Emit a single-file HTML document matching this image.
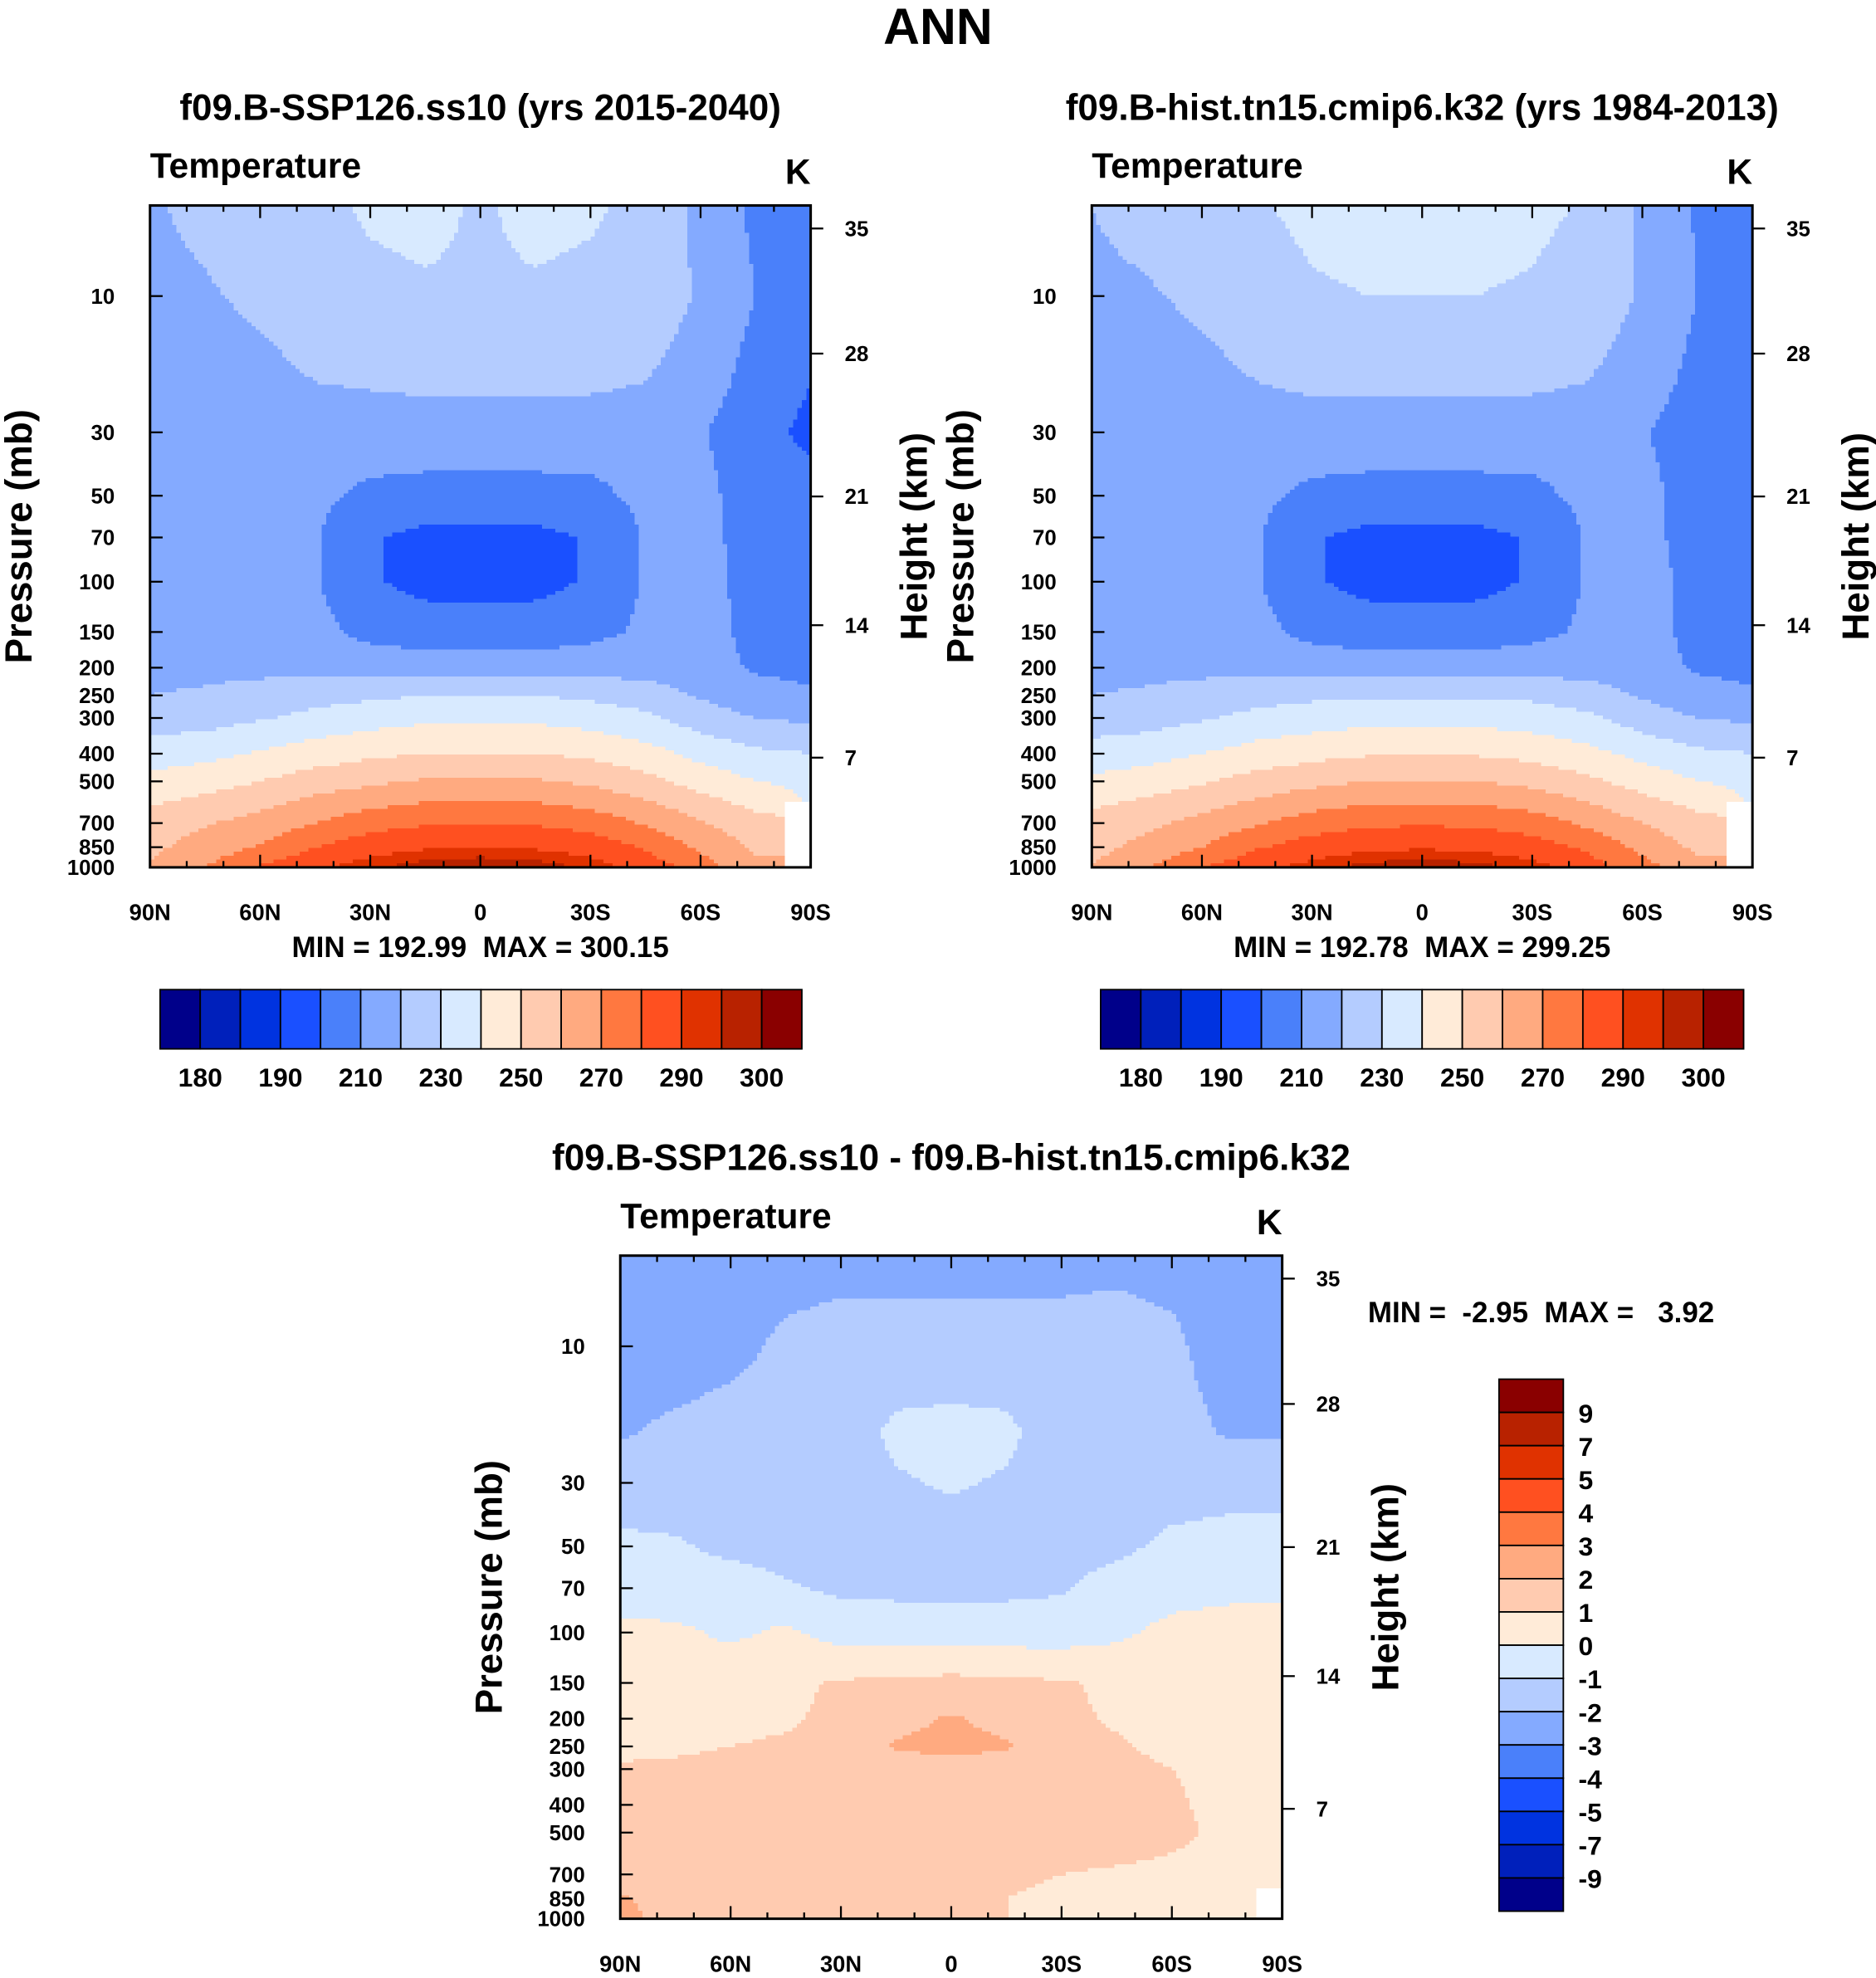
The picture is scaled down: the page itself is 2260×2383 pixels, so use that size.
<!DOCTYPE html>
<html><head><meta charset="utf-8"><style>
html,body{margin:0;padding:0;background:#fff}
svg{display:block}
text{font-family:"Liberation Sans",sans-serif;font-weight:bold;fill:#000;white-space:pre}
</style></head><body>
<svg id="fig" width="2260" height="2383" viewBox="0 0 1488 1569" preserveAspectRatio="none" xmlns="http://www.w3.org/2000/svg">
<text x="744" y="35" font-size="40" text-anchor="middle">ANN</text>
</svg>
<script>
const palette=["#00008a","#0020bb","#0033e0","#1a50ff","#4a80fa","#84aaff","#b4ccff","#d8eaff","#ffebd8","#ffcbb0","#ffaa80","#ff7840","#ff5020","#e03200","#b82200","#8a0000"];
const tempLevels=[180,185,190,200,210,220,230,240,250,260,270,280,290,295,300];
const tempLabels=["180","190","210","230","250","270","290","300"];
const diffLevels=[-9,-7,-5,-4,-3,-2,-1,0,1,2,3,4,5,7,9];
const diffLabels=["9","7","5","4","3","2","1","0","-1","-2","-3","-4","-5","-7","-9"];
const lats=[90,75,60,45,30,15,0,-15,-30,-45,-60,-75,-90];
const plevs=[5,10,20,30,50,70,100,150,200,250,300,400,500,700,850,1000];
const N=null;
const tempA=[
[219,222,226,228,231,232,229,232,231,228,217,208,203],
[218,219,222,226,228,229,229,229,228,226,219,210,206],
[216,215,217,220,221,222,222,222,222,220,215,206,200],
[214,214,214,215,215,215,215,215,214,213,211,203,198],
[214,214,214,212,208,207,207,207,208,212,213,205,203],
[215,214,213,211,201,197,197,197,201,211,213,206,204],
[216,215,214,211,201,197,196,197,201,211,214,206,205],
[217,216,216,213,207,205,205,205,207,212,214,207,206],
[218,218,218,217,216,215,215,215,216,216,214,209,208],
[220,221,223,226,228,230,230,230,228,225,219,213,211],
[225,226,229,233,236,238,238,238,236,232,225,220,218],
[235,237,241,245,248,250,250,250,248,244,237,232,230],
[243,246,250,255,258,261,261,261,258,253,246,240,238],
[255,259,264,270,276,279,280,279,276,269,261,254,N],
[258,264,271,280,286,289,290,289,286,279,268,258,N],
[261,270,281,288,294,298,300,298,294,286,275,262,N]];
const tempB=[
[220,223,227,229,232,233,231,233,232,229,218,209,205],
[218,219,222,226,229,230,230,230,229,226,219,210,207],
[216,215,217,220,222,222,222,222,222,220,215,207,202],
[214,214,214,215,215,215,215,215,214,213,211,204,200],
[214,214,214,212,208,207,207,207,208,212,213,206,204],
[215,214,213,211,201,197,197,197,201,211,213,206,205],
[216,215,214,211,201,197,196,197,201,211,214,207,205],
[217,216,216,213,207,205,205,205,207,212,214,207,206],
[218,218,218,217,216,215,215,215,216,216,214,209,208],
[220,221,223,226,228,229,229,229,228,225,219,213,211],
[225,226,229,233,235,237,237,237,235,232,225,220,218],
[234,236,240,244,247,249,249,249,247,243,237,232,230],
[242,245,249,254,257,260,260,260,257,252,246,240,238],
[254,258,263,269,275,278,279,278,275,268,260,254,N],
[257,263,270,279,285,288,289,288,285,278,267,258,N],
[260,269,280,287,293,297,299,297,293,285,274,262,N]];
const diffV=[
[-2.5,-2.5,-2.5,-2.4,-2.3,-2.3,-2.3,-2.3,-2.3,-2.2,-2.3,-2.5,-2.5],
[-2.5,-2.5,-2.3,-1.8,-1.6,-1.6,-1.6,-1.6,-1.6,-1.6,-1.8,-2.5,-2.5],
[-2.1,-1.8,-1.6,-1.5,-1.5,-0.8,-0.7,-0.8,-1.5,-1.5,-1.6,-2.1,-2.1],
[-1.5,-1.5,-1.5,-1.5,-1.5,-1.1,-0.9,-1.1,-1.5,-1.5,-1.4,-1.3,-1.3],
[-0.8,-0.9,-1.2,-1.3,-1.4,-1.4,-1.4,-1.4,-1.4,-1.2,-0.8,-0.7,-0.7],
[-0.6,-0.6,-0.6,-0.9,-1.2,-1.2,-1.2,-1.2,-1.1,-0.6,-0.4,-0.3,-0.2],
[0.3,0.2,-0.2,0.2,-0.4,-0.5,-0.5,-0.5,-0.5,-0.2,0.3,0.5,0.5],
[0.5,0.6,0.7,0.8,1.1,1.2,1.3,1.2,1.1,0.8,0.6,0.6,0.6],
[0.6,0.7,0.8,0.9,1.2,1.7,2.1,1.7,1.2,0.9,0.7,0.7,0.7],
[0.8,0.9,1.0,1.1,1.3,2.1,2.3,2.1,1.3,1.1,0.8,0.7,0.7],
[1.1,1.1,1.2,1.2,1.3,1.5,1.6,1.5,1.3,1.2,1.0,0.8,0.7],
[1.2,1.3,1.4,1.4,1.4,1.4,1.4,1.4,1.4,1.3,1.1,0.8,0.7],
[1.3,1.3,1.4,1.4,1.4,1.4,1.4,1.4,1.4,1.4,1.2,0.8,0.7],
[1.5,1.4,1.3,1.2,1.2,1.2,1.2,1.1,1.0,0.9,0.8,0.7,0.7],
[2.1,1.6,1.2,1.2,1.2,1.1,1.1,1.0,0.9,0.8,0.7,0.6,N],
[2.3,1.6,1.2,1.2,1.2,1.1,1.1,1.0,0.9,0.8,0.7,0.6,N]];
const pTicks=[10,30,50,70,100,150,200,250,300,400,500,700,850,1000];
const kmTicks=[35,28,21,14,7];
const kmPress=[5.8,15.9,50.3,142,413];
const latTickLabels=["90N","60N","30N","0","30S","60S","90S"];

const NS="http://www.w3.org/2000/svg";
const svg=document.getElementById('fig');
function mk(tag,attrs,parent){const e=document.createElementNS(NS,tag);for(const k in attrs)e.setAttribute(k,attrs[k]);(parent||svg).appendChild(e);return e;}
function colorIdx(v,lv){let i=0;while(i<lv.length&&v>=lv[i])i++;return i;}
function sample(field,lat,p){
  let fx=(90-lat)/15; fx=Math.max(0,Math.min(12,fx));
  const lp=Math.log(p);let fy;
  if(p<=plevs[0])fy=0;else if(p>=1000)fy=plevs.length-1;else{
    for(let j=0;j<plevs.length-1;j++){if(p<=plevs[j+1]){fy=j+(lp-Math.log(plevs[j]))/(Math.log(plevs[j+1])-Math.log(plevs[j]));break;}}}
  const nx=Math.round(fx),ny=Math.round(fy);
  if(field[ny][nx]===null)return null;
  const x0=Math.floor(fx),y0=Math.floor(fy),x1=Math.min(12,x0+1),y1=Math.min(plevs.length-1,y0+1);
  const tx=fx-x0,ty=fy-y0;let s=0,w=0;
  [[x0,y0,(1-tx)*(1-ty)],[x1,y0,tx*(1-ty)],[x0,y1,(1-tx)*ty],[x1,y1,tx*ty]].forEach(([i,j,ww])=>{const v=field[j][i];if(v!==null){s+=v*ww;w+=ww;}});
  return w>0?s/w:null;
}
function panel(o){
  const g=mk('g',{});
  
  
  const L=o.x0,R=o.x1,B=o.yb,sc=o.sc,T=o.yt;
  const yOf=p=>B-Math.log(1000/p)*sc;
  const xOf=lat=>L+(90-lat)/180*(R-L);
  const NX=150,NY=170,cw=(R-L)/NX,ch=(B-T)/NY;
  const cg=mk('g',{'shape-rendering':'crispEdges'},g);
  
  
  for(let j=0;j<NY;j++){
    const y=T+(j+0.5)*ch;const p=1000*Math.exp(-(B-y)/sc);
    let run=null,start=0;
    const flush=(end)=>{if(run!==null&&run!=='w'){const r=mk('rect',{x:L+start*cw,y:T+j*ch,width:(end-start)*cw+0.6,height:ch+0.6,fill:run},cg);
      
      }};
    for(let i=0;i<NX;i++){
      const lat=90-(i+0.5)*cw/(R-L)*180;
      const v=sample(o.field,lat,p);
      const c=v===null?'w':palette[colorIdx(v,o.levels)];
      if(c!==run){flush(i);run=c;start=i;}
    }
    flush(NX);
  }
  mk('rect',{x:L,y:T,width:R-L,height:B-T,fill:'none',stroke:'#000','stroke-width':2},g);
  for(let lat=90;lat>=-90;lat-=10){
    const x=xOf(lat);const maj=lat%30===0;const len=maj?10:5;
    mk('line',{x1:x,y1:T,x2:x,y2:T+len,stroke:'#000','stroke-width':1.5},g);
    mk('line',{x1:x,y1:B,x2:x,y2:B-len,stroke:'#000','stroke-width':1.5},g);
  }
  latTickLabels.forEach((s,k)=>{const t=mk('text',{x:xOf(90-30*k),y:B+42,'font-size':18,'text-anchor':'middle'},g);t.textContent=s;
    
    });
  pTicks.forEach(p=>{const y=yOf(p);
    mk('line',{x1:L,y1:y,x2:L+10,y2:y,stroke:'#000','stroke-width':1.5},g);
    const t=mk('text',{x:L-28,y:y+6,'font-size':17,'text-anchor':'end'},g);t.textContent=p;
    
    });
  kmTicks.forEach((h,k)=>{const y=yOf(kmPress[k]);
    mk('line',{x1:R,y1:y,x2:R+10,y2:y,stroke:'#000','stroke-width':1.5},g);
    const t=mk('text',{x:R+27,y:y+6,'font-size':17},g);t.textContent=h;
    
    });
  let t=mk('text',{x:L,y:T-22,'font-size':28},g);t.textContent='Temperature';
  
  t=mk('text',{x:R,y:T-17,'font-size':28,'text-anchor':'end'},g);t.textContent='K';
  
  t=mk('text',{x:(L+R)/2,y:T-68,'font-size':29,'text-anchor':'middle'},g);t.textContent=o.title;
  
  const my=(T+B)/2;
  t=mk('text',{x:0,y:0,'font-size':30,'text-anchor':'middle',transform:`translate(${L-94},${my}) rotate(-90)`},g);t.textContent='Pressure (mb)';
  
  t=mk('text',{x:0,y:0,'font-size':30,'text-anchor':'middle',transform:`translate(${R+92},${my}) rotate(-90)`},g);t.textContent='Height (km)';
  
}
function hbar(x0,x1,y0,y1,labels,cx,minmax){
  const g=mk('g',{});
  const w=(x1-x0)/16;
  palette.forEach((c,i)=>{const r=mk('rect',{x:x0+i*w,y:y0,width:w,height:y1-y0,fill:c,stroke:'#000','stroke-width':1.2},g);
    });
  labels.forEach((s,k)=>{const t=mk('text',{x:x0+(2*k+1)*w,y:y1+30,'font-size':21,'text-anchor':'middle'},g);t.textContent=s;
    });
  const t=mk('text',{x:cx,y:y0-26,'font-size':23,'text-anchor':'middle'},g);t.textContent=minmax;
  
}
panel({name:'panel-ssp126',x0:119,x1:643,yt:163,yb:688,sc:98.4,field:tempA,levels:tempLevels,title:'f09.B-SSP126.ss10 (yrs 2015-2040)'});
panel({name:'panel-hist',x0:866,x1:1390,yt:163,yb:688,sc:98.4,field:tempB,levels:tempLevels,title:'f09.B-hist.tn15.cmip6.k32 (yrs 1984-2013)'});
panel({name:'panel-difference',x0:492,x1:1017,yt:996,yb:1522,sc:98.6,field:diffV,levels:diffLevels,title:'f09.B-SSP126.ss10 - f09.B-hist.tn15.cmip6.k32'});
hbar(127,636,785,832,tempLabels,381,'MIN = 192.99  MAX = 300.15');
hbar(873,1383,785,832,tempLabels,1128,'MIN = 192.78  MAX = 299.25');
(function(){
  const g=mk('g',{});
  const y0=1094,y1=1516,h=(y1-y0)/16;
  for(let i=0;i<16;i++){const r=mk('rect',{x:1189,y:y0+i*h,width:51,height:h,fill:palette[15-i],stroke:'#000','stroke-width':1.2},g);
    }
  diffLabels.forEach((s,k)=>{const t=mk('text',{x:1252,y:y0+(k+1)*h+8,'font-size':21},g);t.textContent=s;
    });
  const t=mk('text',{x:1085,y:1049,'font-size':23},g);t.textContent='MIN =  -2.95  MAX =   3.92';
  
})();
</script>
</body></html>
